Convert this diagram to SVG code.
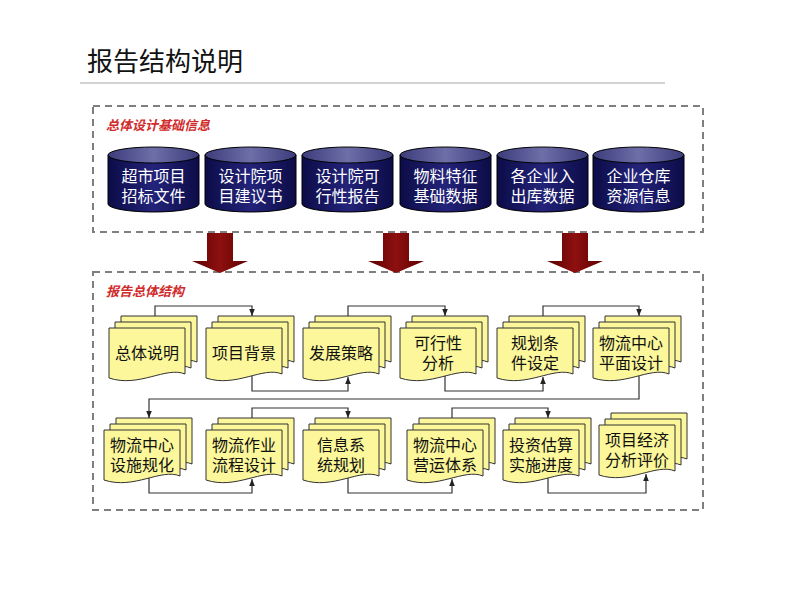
<svg xmlns="http://www.w3.org/2000/svg" xmlns:xlink="http://www.w3.org/1999/xlink" width="800" height="600" viewBox="0 0 800 600">
<style>
  .title{font-family:"Liberation Sans","Noto Sans CJK SC",sans-serif;font-size:26px;fill:#111;}
  .sec{font-family:"Liberation Sans","Noto Sans CJK SC",sans-serif;font-size:13px;font-style:italic;font-weight:bold;fill:#d02c2c;}
  .box{fill:none;stroke:#7f7f7f;stroke-width:2;stroke-dasharray:7 5;}
  .ct{font-family:"Liberation Sans","Noto Sans CJK SC",sans-serif;font-size:16px;fill:#fff;text-anchor:middle;}
  .dt{font-family:"Liberation Sans","Noto Sans CJK SC",sans-serif;font-size:16px;fill:#111;text-anchor:middle;}
  .docp{fill:#fbf79a;stroke:#333;stroke-width:1;}
  .conn path{fill:none;stroke:#333;stroke-width:1.2;marker-end:url(#ah);}
  .bigarrow{fill:url(#red);}
</style>
<defs>
  <linearGradient id="body" x1="0" y1="0" x2="1" y2="0">
    <stop offset="0" stop-color="#0c0c48"/>
    <stop offset="0.5" stop-color="#23237a"/>
    <stop offset="1" stop-color="#0c0c48"/>
  </linearGradient>
  <linearGradient id="top" x1="0" y1="0" x2="1" y2="0">
    <stop offset="0" stop-color="#3c3c7c"/>
    <stop offset="0.5" stop-color="#6e6ea8"/>
    <stop offset="1" stop-color="#3c3c7c"/>
  </linearGradient>
  <linearGradient id="red" x1="0" y1="0" x2="1" y2="0">
    <stop offset="0" stop-color="#5c0000"/>
    <stop offset="0.5" stop-color="#8e1010"/>
    <stop offset="1" stop-color="#5c0000"/>
  </linearGradient>
  <marker id="ah" viewBox="0 0 10 10" refX="10" refY="5" markerWidth="7" markerHeight="7" orient="auto" markerUnits="userSpaceOnUse">
    <path d="M0,1 L10,5 L0,9 Z" fill="#222"/>
  </marker>
  <g id="cyl">
    <path d="M0,8 V57 A45.5,8 0 0 0 91,57 V8 Z" fill="url(#body)" stroke="#000" stroke-width="1"/>
    <ellipse cx="45.5" cy="8" rx="45.5" ry="8" fill="url(#top)" stroke="#000" stroke-width="1"/>
  </g>
  <path id="doc" class="docp" d="M0,0 H76 V46 C57,38 30,60 0,50 Z"/>
  <g id="docs">
    <use xlink:href="#doc" x="12" y="-12"/>
    <use xlink:href="#doc" x="6" y="-6"/>
    <use xlink:href="#doc" x="0" y="0"/>
  </g>
</defs>

<rect width="800" height="600" fill="#fff"/>

<g id="header">
  <text class="title" x="87" y="71">报告结构说明</text>
  <line x1="80" y1="83" x2="665" y2="83" stroke="#c4c4c4" stroke-width="1.5"/>
</g>

<g id="section-top">
  <rect class="box" x="93" y="106" width="610" height="126"/>
  <text class="sec" x="106" y="130">总体设计基础信息</text>
</g>

<g id="section-bottom">
  <rect class="box" x="93" y="272" width="610" height="238"/>
  <text class="sec" x="106" y="296">报告总体结构</text>
</g>

<g id="c1"><use xlink:href="#cyl" x="108" y="147"/><text class="ct" x="153.5" y="182">超市项目</text><text class="ct" x="153.5" y="202">招标文件</text></g>
<g id="c2"><use xlink:href="#cyl" x="205" y="147"/><text class="ct" x="250.5" y="182">设计院项</text><text class="ct" x="250.5" y="202">目建议书</text></g>
<g id="c3"><use xlink:href="#cyl" x="302" y="147"/><text class="ct" x="347.5" y="182">设计院可</text><text class="ct" x="347.5" y="202">行性报告</text></g>
<g id="c4"><use xlink:href="#cyl" x="400" y="147"/><text class="ct" x="445.5" y="182">物料特征</text><text class="ct" x="445.5" y="202">基础数据</text></g>
<g id="c5"><use xlink:href="#cyl" x="497" y="147"/><text class="ct" x="542.5" y="182">各企业入</text><text class="ct" x="542.5" y="202">出库数据</text></g>
<g id="c6"><use xlink:href="#cyl" x="593" y="147"/><text class="ct" x="638.5" y="182">企业仓库</text><text class="ct" x="638.5" y="202">资源信息</text></g>

<g id="big-arrows">
  <polygon class="bigarrow" points="207,233 233,233 233,261 248,261 220,273 192,261 207,261"/>
  <polygon class="bigarrow" points="383,233 409,233 409,261 424,261 396,273 368,261 383,261"/>
  <polygon class="bigarrow" points="562,233 588,233 588,261 603,261 575,273 547,261 562,261"/>
</g>

<g id="n1"><use xlink:href="#docs" x="109" y="328"/><text class="dt" x="147" y="359">总体说明</text></g>
<g id="n2"><use xlink:href="#docs" x="206" y="328"/><text class="dt" x="244" y="359">项目背景</text></g>
<g id="n3"><use xlink:href="#docs" x="303" y="328"/><text class="dt" x="341" y="359">发展策略</text></g>
<g id="n4"><use xlink:href="#docs" x="400" y="328"/><text class="dt" x="438" y="349">可行性</text><text class="dt" x="438" y="369">分析</text></g>
<g id="n5"><use xlink:href="#docs" x="497" y="328"/><text class="dt" x="535" y="349">规划条</text><text class="dt" x="535" y="369">件设定</text></g>
<g id="n6"><use xlink:href="#docs" x="593" y="328"/><text class="dt" x="631" y="349">物流中心</text><text class="dt" x="631" y="369">平面设计</text></g>

<g id="n7"><use xlink:href="#docs" x="104" y="430"/><text class="dt" x="142" y="451">物流中心</text><text class="dt" x="142" y="471">设施规化</text></g>
<g id="n8"><use xlink:href="#docs" x="206" y="430"/><text class="dt" x="244" y="451">物流作业</text><text class="dt" x="244" y="471">流程设计</text></g>
<g id="n9"><use xlink:href="#docs" x="303" y="430"/><text class="dt" x="341" y="451">信息系</text><text class="dt" x="341" y="471">统规划</text></g>
<g id="n10"><use xlink:href="#docs" x="407" y="430"/><text class="dt" x="445" y="451">物流中心</text><text class="dt" x="445" y="471">营运体系</text></g>
<g id="n11"><use xlink:href="#docs" x="503" y="430"/><text class="dt" x="541" y="451">投资估算</text><text class="dt" x="541" y="471">实施进度</text></g>
<g id="n12"><use xlink:href="#docs" x="599" y="425"/><text class="dt" x="637" y="446">项目经济</text><text class="dt" x="637" y="466">分析评价</text></g>

<g id="connectors" class="conn">
  <path d="M155,316 V306 H252 V316"/>
  <path d="M252,376 V391 H348 V377"/>
  <path d="M348,316 V306 H445 V316"/>
  <path d="M445,376 V391 H543 V377"/>
  <path d="M543,316 V306 H639 V316"/>
  <path d="M639,376 V399 H149 V418"/>
  <path d="M149,478 V493 H252 V479"/>
  <path d="M252,418 V408 H348 V418"/>
  <path d="M348,478 V493 H452 V479"/>
  <path d="M452,418 V408 H548 V418"/>
  <path d="M548,478 V493 H646 V474"/>
</g>
</svg>
